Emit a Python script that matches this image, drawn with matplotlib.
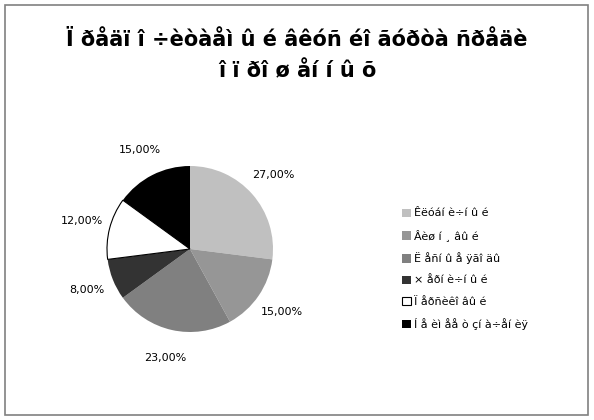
import matplotlib
matplotlib.use("Agg")
import matplotlib.pyplot as plt
from matplotlib.patches import Rectangle

# chart data (labels kept exactly as shown in the reference)
title_lines = ["Ï ðåäï î ÷èòàåì û é âêóñ éî ãóðòà ñðåäè", "î ï ðî ø åí í û õ"]
labels = ["Êëóáí è÷í û é", "Âèø í ¸ âû é", "Ë åñí û å ÿãî äû",
          "× åðí è÷í û é", "Ï åðñèêî âû é", "Í å èì åå ò çí à÷åí èÿ"]
values = [27, 15, 23, 8, 12, 15]
colors = ["#c0c0c0", "#969696", "#808080", "#333333", "#ffffff", "#000000"]

W, H = 594, 420
fig = plt.figure(figsize=(W / 100, H / 100), dpi=100)

# chart area border
fig.patches.append(Rectangle((5 / W, 5 / H), 583 / W, 410 / H, transform=fig.transFigure,
                             fill=False, edgecolor="#808080", linewidth=1.2))

# title
fig.text(297 / W, 1 - 40 / H, title_lines[0], ha="center", va="center",
         fontsize=15, fontweight="bold", family="DejaVu Sans")
fig.text(297 / W, 1 - 71 / H, title_lines[1], ha="center", va="center",
         fontsize=15, fontweight="bold", family="DejaVu Sans")

# pie
cx, cy, r = 190, 249, 83
ax = fig.add_axes([(cx - r) / W, (H - cy - r) / H, 2 * r / W, 2 * r / H])
wedges, texts, autotexts = ax.pie(
    values, colors=colors, startangle=90, counterclock=False,
    autopct=lambda p: ("%.2f%%" % p).replace(".", ","), pctdistance=1.34,
    textprops={"fontsize": 8},
    wedgeprops={"linewidth": 0})
for w, c in zip(wedges, colors):
    if c == "#ffffff":
        w.set_edgecolor("black")
        w.set_linewidth(0.8)
for t in autotexts:
    t.set_clip_on(False)
ax.set_xlim(-1, 1)
ax.set_ylim(-1, 1)
ax.axis("off")

# legend
leg = fig.legend(wedges, labels, loc="upper left", bbox_to_anchor=(398 / W, 1 - 204 / H),
                 frameon=False, fontsize=8, handlelength=0.75, handleheight=0.75,
                 handletextpad=0.3, labelspacing=1.0, borderaxespad=0)
for h, c in zip(leg.legend_handles, colors):
    if c == "#ffffff":
        h.set_edgecolor("black")
        h.set_linewidth(0.8)

fig.savefig("out.png", dpi=100)
